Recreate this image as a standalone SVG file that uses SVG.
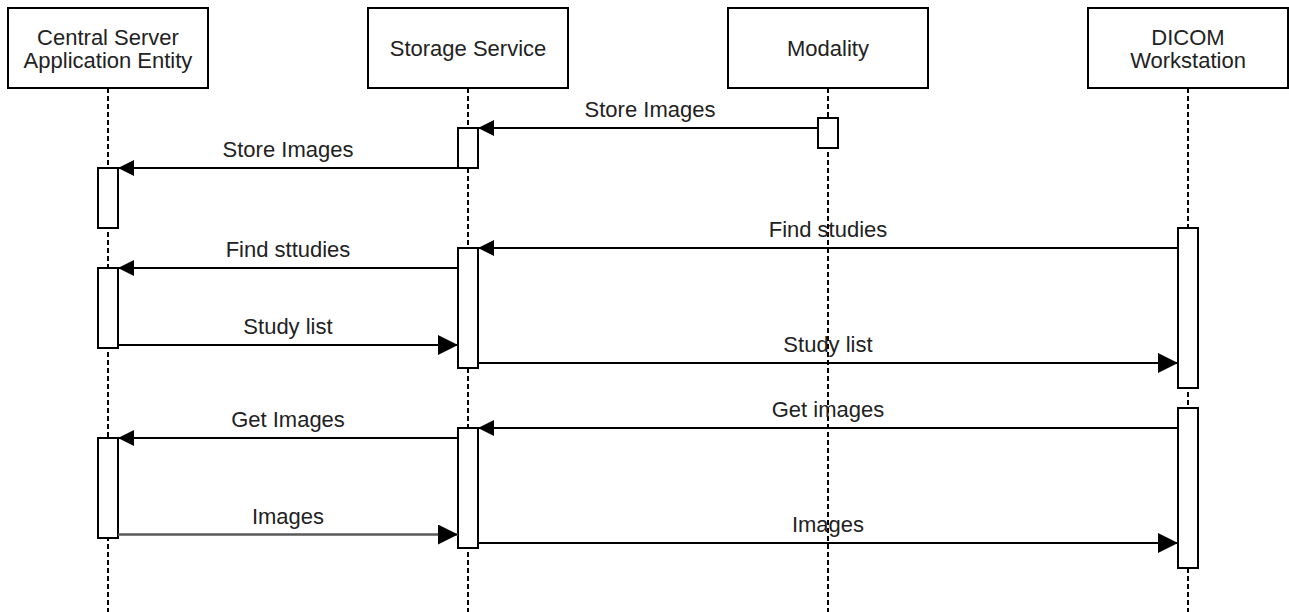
<svg xmlns="http://www.w3.org/2000/svg" width="1289" height="612" viewBox="0 0 1289 612">
<style>
.hdr{fill:#fff;stroke:#000;stroke-width:2}
.life{stroke:#000;stroke-width:2;stroke-dasharray:5 3;fill:none}
.act{fill:#fff;stroke:#000;stroke-width:2}
.t{font-family:"Liberation Sans",Arial,sans-serif;font-size:22px;fill:#222;text-anchor:middle}
.msg{stroke:#000;stroke-width:2;fill:none}
.sm{marker-end:url(#ah)}
.lg{marker-end:url(#ahL)}
</style>
<defs>
<marker id="ah" markerUnits="userSpaceOnUse" markerWidth="16" markerHeight="16" refX="16" refY="8" orient="auto"><path d="M0,0 L16,8 L0,16 z" fill="#000"/></marker>
<marker id="ahL" markerUnits="userSpaceOnUse" markerWidth="20" markerHeight="20" refX="20" refY="10" orient="auto"><path d="M0,0 L20,10 L0,20 z" fill="#000"/></marker>
</defs>
<rect width="1289" height="612" fill="#fff"/>

<g id="central-server">
<line class="life" x1="108" y1="88" x2="108" y2="612"/>
<rect class="hdr" x="8" y="8" width="200" height="80"/>
<text class="t" x="108" y="45">Central Server</text>
<text class="t" x="108" y="68">Application Entity</text>
<rect class="act" x="98" y="168" width="20" height="60"/>
<rect class="act" x="98" y="268" width="20" height="80"/>
<rect class="act" x="98" y="438" width="20" height="100"/>
</g>

<g id="storage-service">
<line class="life" x1="468" y1="88" x2="468" y2="612"/>
<rect class="hdr" x="368" y="8" width="200" height="80"/>
<text class="t" x="468" y="56">Storage Service</text>
<rect class="act" x="458" y="128" width="20" height="40"/>
<rect class="act" x="458" y="248" width="20" height="120"/>
<rect class="act" x="458" y="428" width="20" height="120"/>
</g>

<g id="modality">
<line class="life" x1="828" y1="88" x2="828" y2="612"/>
<rect class="hdr" x="728" y="8" width="200" height="80"/>
<text class="t" x="828" y="56">Modality</text>
<rect class="act" x="818" y="118" width="20" height="30"/>
</g>

<g id="dicom-workstation">
<line class="life" x1="1188" y1="88" x2="1188" y2="612"/>
<rect class="hdr" x="1088" y="8" width="200" height="80"/>
<text class="t" x="1188" y="45">DICOM</text>
<text class="t" x="1188" y="68">Workstation</text>
<rect class="act" x="1178" y="228" width="20" height="160"/>
<rect class="act" x="1178" y="408" width="20" height="160"/>
</g>

<g id="connectors">
<path class="msg sm" d="M818,128 L478,128"/>
<text class="t" x="650" y="117">Store Images</text>
<path class="msg sm" d="M458,168 L118,168"/>
<text class="t" x="288" y="157">Store Images</text>
<path class="msg sm" d="M1178,248 L478,248"/>
<text class="t" x="828" y="237">Find studies</text>
<path class="msg sm" d="M458,268 L118,268"/>
<text class="t" x="288" y="257">Find sttudies</text>
<path class="msg lg" d="M118,345 L458,345"/>
<text class="t" x="288" y="334">Study list</text>
<path class="msg lg" d="M478,363 L1178,363"/>
<text class="t" x="828" y="352">Study list</text>
<path class="msg sm" d="M1178,428 L478,428"/>
<text class="t" x="828" y="417">Get images</text>
<path class="msg sm" d="M458,438 L118,438"/>
<text class="t" x="288" y="427">Get Images</text>
<path class="msg lg" d="M118,534.5 L458,534.5" style="stroke:#5a5a5a;stroke-width:2.5"/>
<text class="t" x="288" y="524">Images</text>
<path class="msg lg" d="M478,543 L1178,543"/>
<text class="t" x="828" y="532">Images</text>
</g>
</svg>
